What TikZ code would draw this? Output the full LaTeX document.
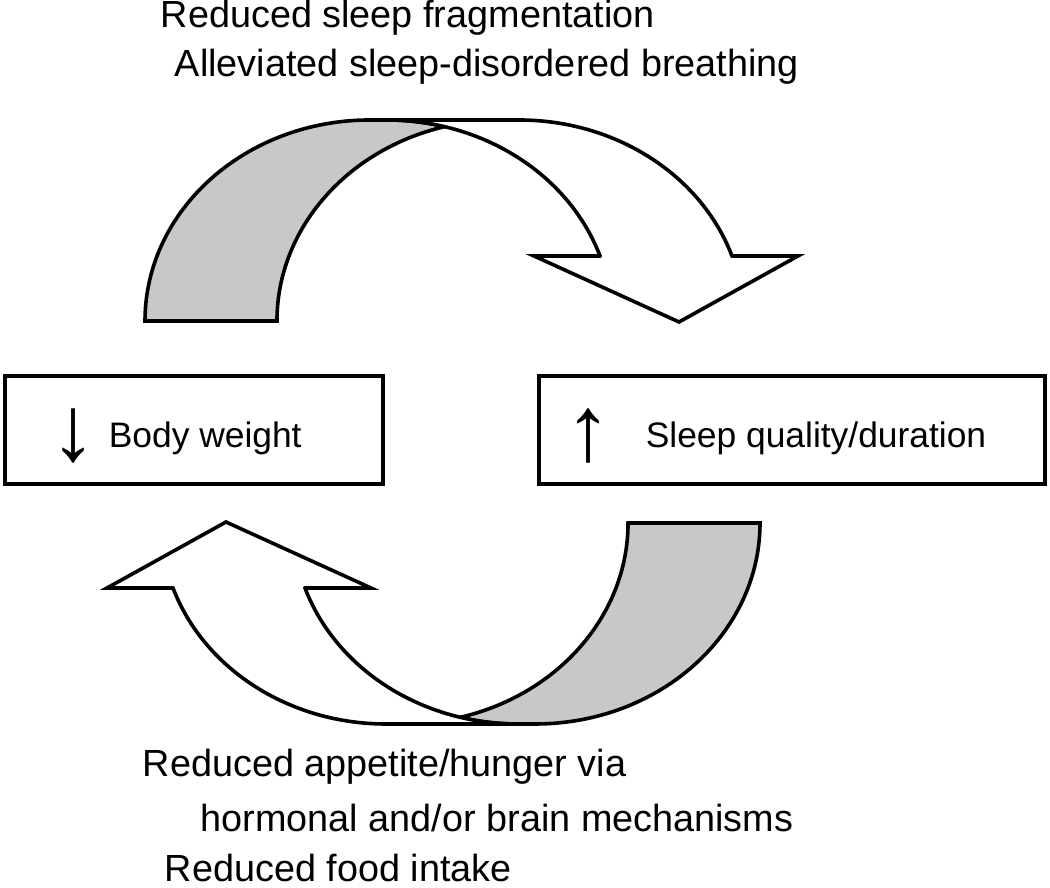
\documentclass[tikz,border=0pt]{standalone}
\usepackage{fontspec}
\setmainfont{Liberation Sans}
\usepackage{xcolor}
\usepackage{tikz}
\definecolor{bandgray}{RGB}{200,200,200}

\newcommand{\bandarrow}{%
  \filldraw[fill=bandgray] (145,567)
    arc[start angle=180, end angle=90, x radius=225pt, y radius=201pt] -- (387.1,768)
    arc[start angle=90, end angle=75.21, x radius=225pt, y radius=201pt]
    arc[start angle=104.79, end angle=180, x radius=225pt, y radius=201pt] -- cycle;
  \filldraw[fill=white] (600,632) -- (534,632) -- (679,566) -- (798,632) -- (732,632)
    arc[start angle=18.87, end angle=90, x radius=225pt, y radius=201pt] -- (387.1,768)
    arc[start angle=90, end angle=18.87, x radius=225pt, y radius=201pt] -- cycle;}

\begin{document}
\begin{tikzpicture}[x=1pt, y=1pt, line width=3.6pt, inner sep=0pt,
    box/.style={draw, rectangle, minimum height=108.4pt},
    lbl/.style={anchor=base west, font=\fontsize{37.8}{40}\selectfont},
    boxtext/.style={anchor=base west, font=\fontsize{35.4}{38}\selectfont},
    updown/.style={font=\fontsize{92}{94}\selectfont}]

      \useasboundingbox (0,0) rectangle (1050,888);

      \bandarrow
      \begin{scope}[rotate around={180:(452.5,466)}]
        \bandarrow
      \end{scope}

      \node[box, minimum width=378.1pt] (bw) at (194.15,458) {};
      \node[box, minimum width=506.4pt] (sq) at (792,458) {};

      \node[updown] (down) at (73,451.5) {↓};
      \node[boxtext] (bwtext) at (107,440) {Body weight};
      \node[updown] (up) at (588,451.5) {↑};
      \node[boxtext] (sqtext) at (644,440) {Sleep quality/duration};

      \node[lbl] (frag) at (159,860) {Reduced sleep fragmentation};
      \node[lbl] (sdb) at (173,811) {Alleviated sleep-disordered breathing};

      \node[lbl] (appetite) at (141,111) {Reduced appetite/hunger via};
      \node[lbl] (hormonal) at (199,56) {hormonal and/or brain mechanisms};
      \node[lbl] (intake) at (163,6) {Reduced food intake};
\end{tikzpicture}
\end{document}
